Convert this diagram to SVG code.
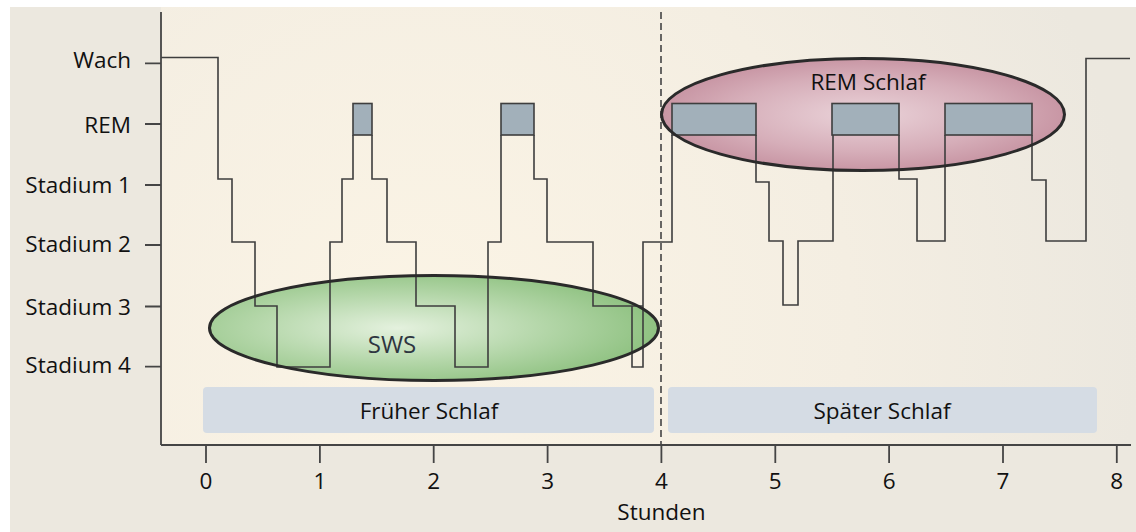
<svg xmlns="http://www.w3.org/2000/svg" width="1136" height="532" viewBox="0 0 1136 532">
  <defs>
    <radialGradient id="bgGrad" cx="420" cy="330" r="720" gradientUnits="userSpaceOnUse">
      <stop offset="0" stop-color="#FBF4E5"/>
      <stop offset="0.6" stop-color="#F4EEE2"/>
      <stop offset="1" stop-color="#ECE8DF"/>
    </radialGradient>
    <radialGradient id="greenGrad" cx="0.42" cy="0.5" r="0.6">
      <stop offset="0" stop-color="#E4F1DE"/>
      <stop offset="0.55" stop-color="#B3D6A8"/>
      <stop offset="1" stop-color="#8CC07E"/>
    </radialGradient>
    <radialGradient id="pinkGrad" cx="0.5" cy="0.5" r="0.6">
      <stop offset="0" stop-color="#EAD3D9"/>
      <stop offset="0.55" stop-color="#D6AEB9"/>
      <stop offset="1" stop-color="#C08898"/>
    </radialGradient>
  </defs>
  <style>
    text { font-family: "Open Sans", "Liberation Sans", sans-serif; font-size: 22.5px; fill: #111111; }
    .ylab { text-anchor: end; }
    .xlab { text-anchor: middle; }
    .axis { stroke: #454545; stroke-width: 1.8; fill: none; }
    .trace { stroke: #3E3E3E; stroke-width: 1.6; fill: none; }
    .rem { fill: #A2B0BA; stroke: #3E3E3E; stroke-width: 1.6; }
    .band { fill: #D5DCE4; }
    .outline { fill: none; stroke: #2A2A2A; stroke-width: 3; }
  </style>

  <!-- background -->
  <rect x="0" y="0" width="1136" height="532" fill="#ECE8DF"/>
  <rect x="0" y="0" width="1136" height="7" fill="#FFFFFF"/>
  <rect x="0" y="0" width="10" height="532" fill="#FFFFFF"/>
  <rect x="161" y="7" width="975" height="438" fill="url(#bgGrad)"/>

  <!-- phase bands -->
  <g id="frueher">
    <rect class="band" x="203" y="387" width="451" height="46" rx="4"/>
    <text class="xlab" x="429" y="419">Früher Schlaf</text>
  </g>
  <g id="spaeter">
    <rect class="band" x="668" y="387" width="429" height="46" rx="4"/>
    <text class="xlab" x="882" y="419">Später Schlaf</text>
  </g>

  <!-- ellipse fills -->
  <g id="sws">
    <ellipse cx="434" cy="328" rx="224.5" ry="52.5" fill="url(#greenGrad)"/>
  </g>
  <g id="rem-schlaf">
    <ellipse cx="863" cy="114.5" rx="201.5" ry="56" fill="url(#pinkGrad)"/>
  </g>

  <!-- dashed midline -->
  <line x1="661" y1="12" x2="661" y2="445" stroke="#444" stroke-width="1.6" stroke-dasharray="7 4"/>

  <!-- hypnogram (connectors) -->
  <g id="hypnogram">
    <path class="trace" d="M161,57.5 H218 V179 H232 V242 H255 V306 H277 V367 H330 V242 H342 V179 H353 V135
      M372,135 V179 H387 V242 H416 V306 H455 V367 H488 V242 H501 V135
      M534,135 V179 H547 V242 H593 V306 H643 M632,306 V367 H643 V242 H672 V135
      M756,135 V182 H769 V241 H783 V305 H798 V241 H833 V135
      M899,135 V179 H917 V241 H945 V135
      M1032,135 V180 H1046 V241 H1086 V58.5 H1130"/>
    <rect class="rem" x="353" y="103.5" width="19" height="31.5"/>
    <rect class="rem" x="501" y="103.5" width="33" height="31.5"/>
    <rect class="rem" x="672" y="103.5" width="84" height="31.5"/>
    <rect class="rem" x="832" y="103.5" width="67" height="31.5"/>
    <rect class="rem" x="945" y="103.5" width="87" height="31.5"/>
  </g>

  <!-- ellipse outlines and labels -->
  <g id="sws-label">
    <ellipse class="outline" cx="434" cy="328" rx="224.5" ry="52.5"/>
    <text x="392" y="353" text-anchor="middle" style="font-size:24px; fill:#2E3540">SWS</text>
  </g>
  <g id="rem-schlaf-label">
    <ellipse class="outline" cx="863" cy="114.5" rx="201.5" ry="56"/>
    <text x="868" y="90" text-anchor="middle">REM Schlaf</text>
  </g>

  <!-- axes -->
  <g id="y-axis">
    <path class="axis" d="M161,12 V445 M145,63.3 H161 M145,124 H161 M145,185 H161 M145,245 H161 M145,306.5 H161 M145,366.7 H161"/>
    <text class="ylab" x="131" y="68.3">Wach</text>
    <text class="ylab" x="131" y="133.3">REM</text>
    <text class="ylab" x="131" y="193.3">Stadium 1</text>
    <text class="ylab" x="131" y="251.7">Stadium 2</text>
    <text class="ylab" x="131" y="315">Stadium 3</text>
    <text class="ylab" x="131" y="373.3">Stadium 4</text>
  </g>
  <g id="x-axis">
    <path class="axis" d="M161,445 H1131 M206,445 V463 M319.9,445 V463 M433.7,445 V463 M547.6,445 V463 M661.4,445 V463 M775.3,445 V463 M889.1,445 V463 M1003,445 V463 M1116.8,445 V463"/>
    <text class="xlab" x="206" y="489">0</text>
    <text class="xlab" x="319.9" y="489">1</text>
    <text class="xlab" x="433.7" y="489">2</text>
    <text class="xlab" x="547.6" y="489">3</text>
    <text class="xlab" x="661.4" y="489">4</text>
    <text class="xlab" x="775.3" y="489">5</text>
    <text class="xlab" x="889.1" y="489">6</text>
    <text class="xlab" x="1003" y="489">7</text>
    <text class="xlab" x="1116.8" y="489">8</text>
    <text class="xlab" x="661.4" y="520">Stunden</text>
  </g>
</svg>
